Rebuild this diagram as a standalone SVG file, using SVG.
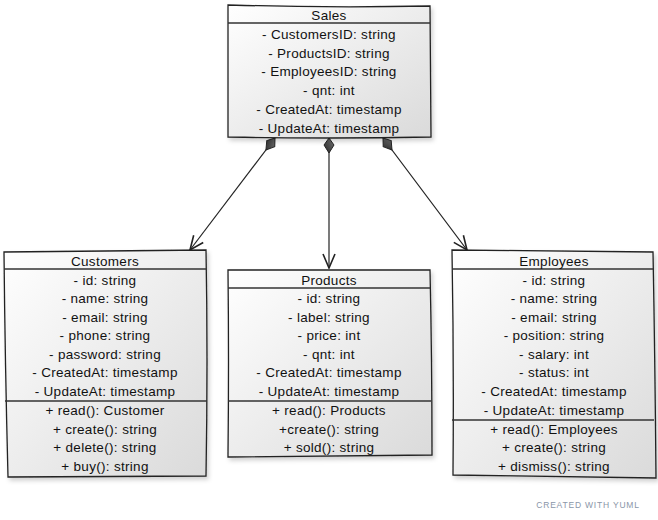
<svg xmlns="http://www.w3.org/2000/svg" width="658" height="520" viewBox="0 0 658 520">
<defs>
<linearGradient id="fill" x1="0" y1="0" x2="1" y2="1">
<stop offset="0" stop-color="#ffffff"/>
<stop offset="1" stop-color="#dadada"/>
</linearGradient>
<linearGradient id="dfill" x1="0" y1="0" x2="1" y2="1">
<stop offset="0" stop-color="#777"/>
<stop offset="1" stop-color="#222"/>
</linearGradient>
<filter id="shadow" x="-10%" y="-10%" width="125%" height="125%">
<feDropShadow dx="2" dy="3" stdDeviation="2" flood-color="#000" flood-opacity="0.18"/>
</filter>
<marker id="diamond" viewBox="0 0 17 12" refX="1" refY="6" markerWidth="17" markerHeight="12" markerUnits="userSpaceOnUse" orient="auto">
<path d="M1,6 L8,1 L16,6 L8,11 Z" fill="url(#dfill)" stroke="#222" stroke-width="1"/>
</marker>
<marker id="arrow" viewBox="0 0 16 14" refX="15" refY="7" markerWidth="16" markerHeight="14" markerUnits="userSpaceOnUse" orient="auto">
<path d="M1,1 L15,7 L1,13" fill="none" stroke="#222" stroke-width="1.6"/>
</marker>
</defs>
<style>
.box{fill:url(#fill);stroke:#222;stroke-width:1.3;filter:url(#shadow)}
.sep{stroke:#333;stroke-width:1.3;fill:none}
.t{font-family:"Liberation Sans",Arial,sans-serif;font-size:13.5px;letter-spacing:0.3px;fill:#111;text-anchor:middle}
.conn{stroke:#222;stroke-width:1.2;fill:none;marker-start:url(#diamond);marker-end:url(#arrow)}
.credit{font-family:"Liberation Sans",Arial,sans-serif;font-size:8.5px;fill:#8a96a8;letter-spacing:0.8px;text-anchor:middle}
</style>
<rect width="658" height="520" fill="#ffffff"/>

<g id="connectors">
<path class="conn" d="M275,138 L190,250"/>
<path class="conn" d="M329,138 L329,268"/>
<path class="conn" d="M383,138 L467,250"/>
</g>

<g id="sales">
<path class="box" d="M228,5 Q330,8 430,6 L431,137 Q330,139 228,137 Z"/>
<path class="sep" d="M228,23 L430,23"/>
<text class="t" x="329" y="20">Sales</text>
<text class="t" x="329" y="39">- CustomersID: string</text>
<text class="t" x="329" y="57.5">- ProductsID: string</text>
<text class="t" x="329" y="76">- EmployeesID: string</text>
<text class="t" x="329" y="95">- qnt: int</text>
<text class="t" x="329" y="114">- CreatedAt: timestamp</text>
<text class="t" x="329" y="133">- UpdateAt: timestamp</text>
</g>

<g id="customers">
<path class="box" d="M4,252 L206,250 Q208,360 206,476 L8,477 Q5,360 4,252 Z"/>
<path class="sep" d="M4,269 L206,269"/>
<path class="sep" d="M5,401 L207,401"/>
<text class="t" x="105" y="266">Customers</text>
<text class="t" x="105" y="285">- id: string</text>
<text class="t" x="105" y="303">- name: string</text>
<text class="t" x="105" y="322">- email: string</text>
<text class="t" x="105" y="340">- phone: string</text>
<text class="t" x="105" y="359">- password: string</text>
<text class="t" x="105" y="377">- CreatedAt: timestamp</text>
<text class="t" x="105" y="396">- UpdateAt: timestamp</text>
<text class="t" x="105" y="415">+ read(): Customer</text>
<text class="t" x="105" y="434">+ create(): string</text>
<text class="t" x="105" y="452">+ delete(): string</text>
<text class="t" x="105" y="471">+ buy(): string</text>
</g>

<g id="products">
<path class="box" d="M228,270 L430,270 Q432,360 432,455 L228,457 Q229,360 228,270 Z"/>
<path class="sep" d="M228,288 L430,288"/>
<path class="sep" d="M228,401 L431,401"/>
<text class="t" x="329" y="285">Products</text>
<text class="t" x="329" y="303">- id: string</text>
<text class="t" x="329" y="322">- label: string</text>
<text class="t" x="329" y="340">- price: int</text>
<text class="t" x="329" y="359">- qnt: int</text>
<text class="t" x="329" y="377">- CreatedAt: timestamp</text>
<text class="t" x="329" y="396">- UpdateAt: timestamp</text>
<text class="t" x="329" y="415">+ read(): Products</text>
<text class="t" x="329" y="434">+create(): string</text>
<text class="t" x="329" y="452">+ sold(): string</text>
</g>

<g id="employees">
<path class="box" d="M452,250 L653,252 Q655,360 656,478 L453,475 Q454,360 452,250 Z"/>
<path class="sep" d="M452,269 L653,269"/>
<path class="sep" d="M452,420 L654,420"/>
<text class="t" x="554" y="266">Employees</text>
<text class="t" x="554" y="285">- id: string</text>
<text class="t" x="554" y="303">- name: string</text>
<text class="t" x="554" y="322">- email: string</text>
<text class="t" x="554" y="340">- position: string</text>
<text class="t" x="554" y="359">- salary: int</text>
<text class="t" x="554" y="377">- status: int</text>
<text class="t" x="554" y="396">- CreatedAt: timestamp</text>
<text class="t" x="554" y="415">- UpdateAt: timestamp</text>
<text class="t" x="554" y="434">+ read(): Employees</text>
<text class="t" x="554" y="452">+ create(): string</text>
<text class="t" x="554" y="471">+ dismiss(): string</text>
</g>

<text class="credit" x="588" y="508">CREATED WITH YUML</text>
</svg>
